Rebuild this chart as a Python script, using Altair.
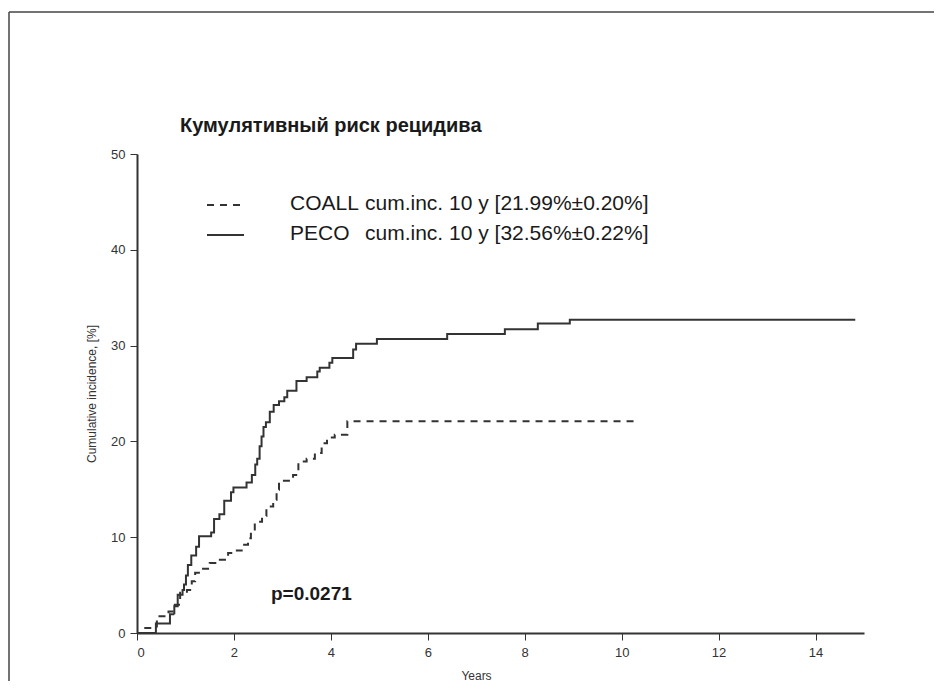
import altair as alt
import pandas as pd

# ---- data ----
peco_years = [0, 0.39, 0.68, 0.77, 0.84, 0.94, 0.97, 1.01, 1.05, 1.12, 1.22, 1.28,
              1.53, 1.59, 1.70, 1.80, 1.94, 1.99, 2.26, 2.37, 2.44, 2.48, 2.53, 2.57,
              2.61, 2.66, 2.74, 2.82, 2.93, 3.04, 3.10, 3.29, 3.50, 3.72, 3.77, 3.97,
              4.03, 4.46, 4.52, 4.95, 6.40, 7.59, 8.27, 8.93, 14.82]
peco_inc = [0, 0.98, 1.95, 2.8, 4.0, 4.5, 5.05, 6.0, 7.1, 8.1, 9.0, 10.1,
            10.5, 11.9, 12.4, 13.8, 14.7, 15.2, 15.7, 16.5, 17.6, 18.2, 19.5, 20.5,
            21.5, 22.0, 23.1, 23.8, 24.2, 24.6, 25.3, 26.3, 26.7, 27.3, 27.7, 28.2,
            28.7, 29.6, 30.2, 30.7, 31.2, 31.7, 32.3, 32.7, 32.7]

coall_years = [0.15, 0.41, 0.65, 0.78, 0.89, 1.03, 1.13, 1.20, 1.30, 1.50, 1.71, 1.88,
               2.02, 2.16, 2.29, 2.35, 2.43, 2.58, 2.67, 2.81, 2.88, 2.93, 3.22, 3.33,
               3.50, 3.67, 3.81, 3.92, 4.08, 4.34, 10.25]
coall_inc = [0.52, 1.75, 2.25, 2.95, 4.2, 4.5, 5.4, 6.3, 6.7, 7.3, 7.65, 8.35,
             8.6, 9.2, 9.9, 10.8, 11.6, 12.2, 13.2, 13.9, 14.96, 15.9, 16.5, 17.9,
             18.2, 18.8, 19.8, 20.4, 20.7, 22.1, 22.1]

legend_names = ["COALL", "PECO"]
legend_stats = ["cum.inc. 10 y [21.99%±0.20%]", "cum.inc. 10 y [32.56%±0.22%]"]
chart_title = "Кумулятивный риск рецидива"
p_value_text = "p=0.0271"
x_ticks = [0, 2, 4, 6, 8, 10, 12, 14]
y_ticks = [0, 10, 20, 30, 40, 50]

FONT = "Liberation Sans"
INK = "#333333"
TEXT_INK = "#1a1a1a"

df = pd.concat([
    pd.DataFrame({"years": coall_years, "inc": coall_inc, "series": "COALL"}),
    pd.DataFrame({"years": peco_years, "inc": peco_inc, "series": "PECO"}),
], ignore_index=True)

x_scale = alt.Scale(domain=[0, 15], nice=False)
y_scale = alt.Scale(domain=[0, 50], nice=False)

curves = alt.Chart(df).mark_line(interpolate="step-after", strokeWidth=2, color=INK).encode(
    x=alt.X("years:Q", scale=x_scale,
            axis=alt.Axis(values=x_ticks, title="Years", grid=False, domainColor=INK,
                          domainWidth=2, tickColor=INK, tickSize=7, tickWidth=1,
                          labelFont=FONT, labelFontSize=13, labelColor=INK, labelPadding=6,
                          titleFont=FONT, titleFontSize=12, titleFontWeight="normal",
                          titleColor=INK, titleX=339, titleY=37)),
    y=alt.Y("inc:Q", scale=y_scale,
            axis=alt.Axis(values=y_ticks, title="Cumulative incidence, [%]", grid=False,
                          domainColor=INK, domainWidth=2, tickColor=INK, tickSize=7,
                          tickWidth=1, labelFont=FONT, labelFontSize=13, labelColor=INK,
                          labelPadding=5, titleFont=FONT, titleFontSize=12,
                          titleFontWeight="normal", titleColor=INK, titlePadding=12)),
    strokeDash=alt.StrokeDash("series:N", scale=alt.Scale(domain=legend_names,
                              range=[[7, 6], [1, 0]]), legend=None),
    detail="series:N",
)

layers = [curves]

dashes = [[7, 6], [1, 0]]
for i, (name, stat) in enumerate(zip(legend_names, legend_stats)):
    one = pd.DataFrame({"name": [name], "stat": [stat]})
    ly = 51 + 30 * i
    layers.append(alt.Chart(one).mark_rule(strokeWidth=2, color=INK, strokeDash=dashes[i]).encode(
        x=alt.value(70), x2=alt.value(107), y=alt.value(ly)))
    layers.append(alt.Chart(one).mark_text(font=FONT, fontSize=21, color=TEXT_INK,
                                           align="left", baseline="alphabetic").encode(
        x=alt.value(153), y=alt.value(ly + 5), text="name:N"))
    layers.append(alt.Chart(one).mark_text(font=FONT, fontSize=21, color=TEXT_INK,
                                           align="left", baseline="alphabetic").encode(
        x=alt.value(228), y=alt.value(ly + 5), text="stat:N"))

title_df = pd.DataFrame({"t": [chart_title]})
layers.append(alt.Chart(title_df).mark_text(font=FONT, fontSize=20, fontWeight="bold",
                                            color=TEXT_INK, align="left",
                                            baseline="alphabetic").encode(
    x=alt.value(43), y=alt.value(-22), text="t:N"))

p_df = pd.DataFrame({"t": [p_value_text]})
layers.append(alt.Chart(p_df).mark_text(font=FONT, fontSize=19, fontWeight="bold",
                                        color=TEXT_INK, align="left",
                                        baseline="alphabetic").encode(
    x=alt.value(134), y=alt.value(446), text="t:N"))

# page frame: top and left edges only (right and bottom run off the picture)
frame_df = pd.DataFrame({"k": [0]})
layers.append(alt.Chart(frame_df).mark_rule(stroke="#444444", strokeWidth=1.5).encode(
    x=alt.value(-128), x2=alt.value(797), y=alt.value(-142)))
layers.append(alt.Chart(frame_df).mark_rule(stroke="#444444", strokeWidth=1.5).encode(
    x=alt.value(-128), y=alt.value(-142), y2=alt.value(527)))

chart = alt.layer(*layers).properties(
    width=727, height=479,
    padding={"left": 129, "top": 146, "right": 70, "bottom": 48},
    autosize=alt.AutoSizeParams(type="none"),
).configure(background="white").configure_view(stroke=None)

chart.save("out.html", embed_options={"renderer": "svg", "actions": False})
